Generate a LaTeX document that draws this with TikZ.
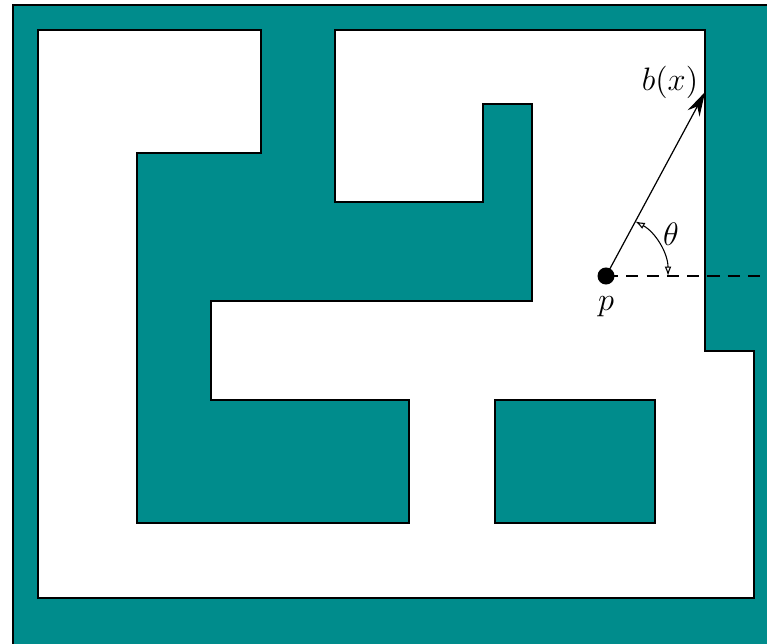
\documentclass[tikz,border=0pt]{standalone}
\usetikzlibrary{arrows.meta, calc}
\definecolor{wallteal}{RGB}{0,140,140}

\begin{document}
\begin{tikzpicture}[x=0.013cm,y=0.013cm, font=\fontsize{11.5}{14}\selectfont]
\useasboundingbox (0,0) rectangle (767,643);
\clip (0,0) rectangle (767,643);
\draw[line width=0.45pt, fill=wallteal] (13,-10) rectangle (790,638);
\draw[line width=0.45pt, fill=white] (38,613) -- (261,613) -- (261,490) -- (137,490) -- (137,120)
  -- (409,120) -- (409,243) -- (211,243) -- (211,342) -- (532,342) -- (532,539) -- (483,539)
  -- (483,441) -- (335,441) -- (335,613) -- (705,613) -- (705,292) -- (754,292) -- (754,45)
  -- (38,45) -- cycle;
\draw[line width=0.45pt, fill=wallteal] (495,243) rectangle (655,120);
\coordinate (p) at (606,367);
\coordinate (bx) at ($(p)+(61.7:209)$);
\coordinate (far) at (790,367);
\draw[dash pattern=on 4.5pt off 3pt, line width=0.45pt] (p) -- (far);
\draw[line width=0.45pt, -{Stealth[length=9pt,width=5pt]}] (p) -- (bx);
\draw[line width=0.4pt, {Latex[open,length=3.5pt,width=2.5pt]}-{Latex[open,length=3.5pt,width=2.5pt]}] ($(p)+(0:62)$) arc (0:61.7:62);
\node[circle, fill=black, inner sep=0pt, minimum size=6.3pt, label={[inner sep=0pt, label distance=4pt]below:$p$}] (pdot) at (p) {};
\node (blabel) at (670,561) {$b(x)$};
\node (thlabel) at (671,409) {$\theta$};
\end{tikzpicture}
\end{document}
